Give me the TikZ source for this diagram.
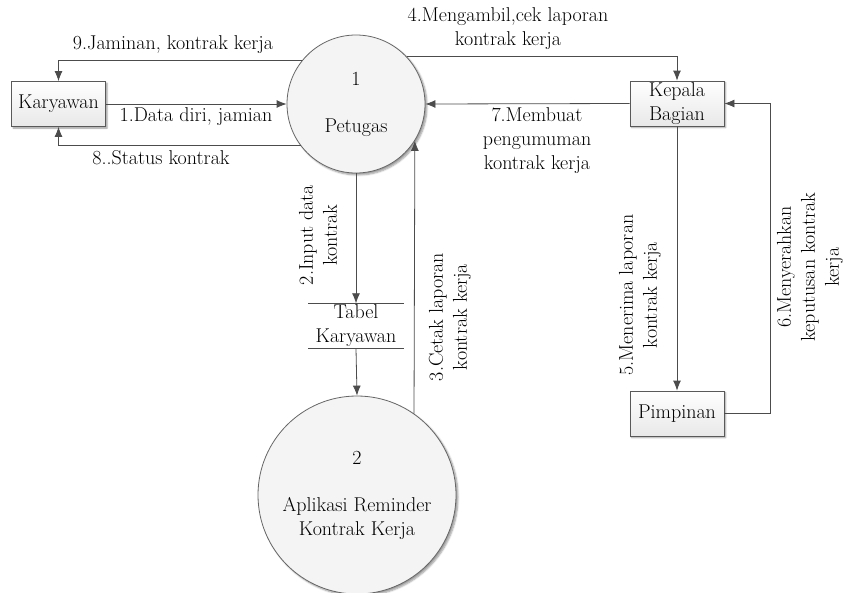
\documentclass[tikz,border=0pt]{standalone}
\usepackage{fontspec}
\usetikzlibrary{arrows.meta,shadows.blur}

\tikzset{
  every node/.style={font=\fontsize{20}{24}\selectfont},
  entity/.style={draw=black!65,line width=0.8pt,top color=white,bottom color=gray!18,
    minimum width=94pt,minimum height=45pt,align=center,inner sep=1pt,
    blur shadow={shadow xshift=1.5pt,shadow yshift=-1.5pt,shadow blur steps=4}},
  proc/.style={circle,draw=black!60,line width=0.8pt,fill=gray!9,align=center,inner sep=0pt,
    blur shadow={shadow xshift=2pt,shadow yshift=-2pt,shadow blur steps=5}},
  store/.style={minimum width=95pt,minimum height=45pt,align=center,inner sep=0pt},
  flow/.style={draw=black!70,line width=0.8pt,-{Latex[length=10pt,width=8pt]}},
  lbl/.style={align=center,inner sep=0pt}
}
\newcommand\vlabel[3]{%
  \node[lbl,rotate=90] (#1) at (#2) {#3}
}

\begin{document}
\begin{tikzpicture}[x=1pt,y=-1pt]
        \useasboundingbox (0,0) rectangle (843,592);
        % The entities
        \node[entity] (kary) at (58.5,104) {Karyawan};
        \node[entity] (kabag) at (677,103.5) {Kepala\\Bagian};
        \node[entity] (pimp) at (677,413.5) {Pimpinan};
        % The processes
        \node[proc,minimum size=138pt] (p1) at (356,104) {1\\[23pt]Petugas};
        \node[proc,minimum size=198pt] (p2) at (357,495) {2\\[23pt]Aplikasi Reminder\\Kontrak Kerja};
        % The data store
        \node[store] (tabel) at (356,326) {Tabel\\Karyawan};
        \draw[black!70,line width=0.8pt] (tabel.north west) -- (tabel.north east);
        \draw[black!70,line width=0.8pt] (tabel.south west) -- (tabel.south east);

        % Flows
        \draw[flow] (kary.east) -- (p1.west);
        \draw[flow] (p1.141) -| (kary.north);
        \draw[flow] (p1.217) -| (kary.south);
        \draw[flow] (p1.south) -- (tabel.north);
        \draw[flow] (tabel.south) -- (p2.north);
        \draw[flow] (p2.55.6) -- (p1.-32.8);
        \draw[flow] (p1.43) -| (kabag.north);
        \draw[flow] (kabag.south) -- (pimp.north);
        \draw[flow] (pimp.east) -- ++(46,0) |- (kabag.east);
        \draw[flow] (kabag.west) -- (p1.east);

        % Labels
        \node[lbl] (l9) at (173,45) {9.Jaminan, kontrak kerja};
        \node[lbl] (l1) at (196,117) {1.Data diri, jamian};
        \node[lbl] (l8) at (161,158) {8..Status kontrak};
        \node[lbl] (l4) at (508,29) {4.Mengambil,cek laporan\\kontrak kerja};
        \node[lbl] (l7) at (537,141) {7.Membuat\\pengumuman\\kontrak kerja};
        \vlabel{l2}{318,235}{2.Input data\\kontrak};
        \vlabel{l3}{450,317}{3.Cetak laporan\\kontrak kerja};
        \vlabel{l5}{640,295}{5.Menerima laporan\\kontrak kerja};
        \vlabel{l6}{810,267}{6.Menyerahkan\\keputusan kontrak\\kerja};
\end{tikzpicture}
\end{document}
